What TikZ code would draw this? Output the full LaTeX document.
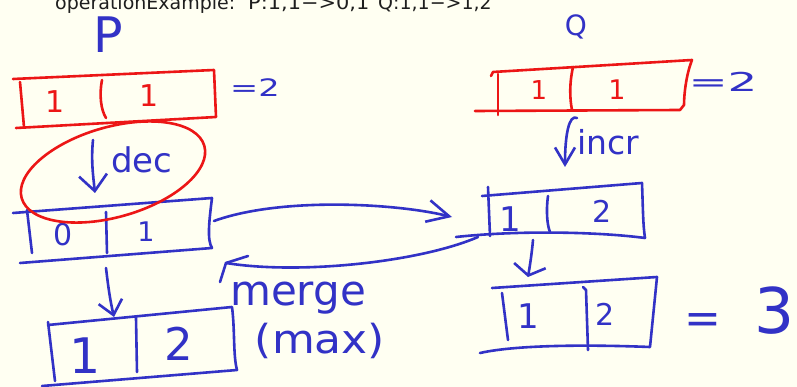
\documentclass[tikz,border=0pt]{standalone}
\usepackage{fontspec}
\setmainfont{DejaVu Sans}
\usetikzlibrary{arrows.meta}
\definecolor{paper}{RGB}{255,255,242}
\definecolor{pen}{RGB}{50,50,198}
\definecolor{redpen}{RGB}{236,22,22}
\definecolor{headgray}{RGB}{30,30,30}
\newcommand{\fsz}[1]{\fontsize{#1pt}{#1pt}\selectfont}
\tikzset{
  ink/.style={line width=2.6pt, line cap=round, line join=round},
  blueink/.style={ink, draw=pen},
  redink/.style={ink, draw=redpen},
  hand/.style={inner sep=0pt, outer sep=0pt, anchor=base, text=pen},
  redhand/.style={hand, text=redpen},
  head/.style={inner sep=0pt, anchor=base west, text=headgray, font=\fsz{19}},
  barb/.style 2 args={-{Straight Barb[length=#1pt, width=#2pt]}},
}
\begin{document}
\begin{tikzpicture}[x=1pt, y=-1pt]
\fill[paper] (0,0) rectangle (797,387);
\useasboundingbox (0,0) rectangle (797,387);

% heading line
\node[head] (title) at (55,10) {operationExample:};
\node[head] (pmap) at (248,10) {\scalebox{1.1}[1]{P:1,1−>0,1}};
\node[head] (qmap) at (378,10) {Q:1,1−>1,2};

% replica names
\node[hand, font=\fsz{49}] (plabel) at (108,53) {P};
\node[hand, font=\fsz{28}] (qlabel) at (576,36) {Q};

% ---- replica P: initial state (red)
\draw[redink] (13,79) -- (214,70) -- (216,117) -- (16,128);
\draw[redink] (20,82) -- (24,127);
\draw[redink] (102,80) .. controls (99,95) and (101,110) .. (106,118);
\node[redhand, font=\fsz{30}] (p1a) at (55,113) {1};
\node[redhand, font=\fsz{30}] (p1b) at (149,107) {1};
\node[hand, font=\fsz{24}] (psum) at (255,97) {\scalebox{1.4}[1]{=2}};

% ---- replica P after dec
\draw[blueink] (13,213) -- (212,198) .. controls (209,222) and (207,240) .. (212,248) -- (20,263);
\draw[blueink] (27,210) -- (32,253);
\draw[blueink] (106,212) -- (107,253);
\node[hand, font=\fsz{30}] (p2a) at (63,245) {0};
\node[hand, font=\fsz{27}] (p2b) at (146,242) {1};

% dec step, circled
\coordinate (pdecfrom) at (93,140);
\coordinate (pdecto) at (95,193);
\draw[blueink, barb={16}{28}] (pdecfrom) .. controls (91,160) and (93,175) .. (pdecto);
\node[hand, font=\fsz{34}] (dec) at (142,173) {dec};
\draw[redink, rotate around={16:(113,172)}] (113,172) ellipse [x radius=95pt, y radius=45pt];

% ---- replica P after merge
\coordinate (p2down) at (106,268);
\coordinate (p3top) at (114,317);
\draw[blueink, barb={14}{24}] (p2down) .. controls (108,285) and (110,300) .. (p3top);
\draw[blueink] (48,325) -- (232,307) .. controls (235,330) and (233,355) .. (237,370) -- (42,386);
\draw[blueink] (48,322) -- (55,381);
\draw[blueink] (136,318) -- (137,372);
\node[hand, font=\fsz{49}] (p3a) at (85,373) {1};
\node[hand, font=\fsz{45}] (p3b) at (179,360) {2};

% ---- replica Q: initial state (red)
\draw[redink] (491,76) -- (493,72) -- (692,60) .. controls (686,75) and (684,95) .. (684,105) -- (680,110) -- (475,111);
\draw[redink] (498,74) -- (498,115);
\draw[redink] (573,67) .. controls (569,85) and (570,100) .. (572,110);
\node[redhand, font=\fsz{26}] (q1a) at (539,100) {1};
\node[redhand, font=\fsz{27}] (q1b) at (617,100) {1};
\node[hand, font=\fsz{26}] (qsum) at (723,92) {\scalebox{1.8}[1]{=2}};

% incr step
\coordinate (qincfrom) at (577,118);
\coordinate (qincto) at (565,167);
\draw[blueink, barb={17}{20}] (qincfrom) .. controls (569,114) and (565,135) .. (qincto);
\node[hand, font=\fsz{33}] (incr) at (608,155) {incr};

% ---- replica Q after incr
\draw[blueink] (482,196) -- (642,183) .. controls (643,210) and (643,225) .. (645,238)
  .. controls (600,232) and (520,230) .. (456,237);
\draw[blueink] (488,187) -- (490,236);
\draw[blueink] (548,196) .. controls (546,210) and (547,225) .. (550,232);
\node[hand, font=\fsz{34}] (q2a) at (510,232) {1};
\node[hand, font=\fsz{30}] (q2b) at (602,223) {2};

% ---- replica Q after merge
\coordinate (q2down) at (533,240);
\coordinate (q3top) at (528,277);
\draw[blueink, barb={10}{32}] (q2down) .. controls (532,252) and (530,265) .. (q3top);
\draw[blueink] (492,288) -- (657,277) -- (650,347) .. controls (600,345) and (520,344) .. (480,353);
\draw[blueink] (502,293) -- (508,340);
\draw[blueink] (583,287) -- (586,290) -- (588,350);
\node[hand, font=\fsz{34}] (q3a) at (528,328) {1};
\node[hand, font=\fsz{30}] (q3b) at (605,325) {2};
\node[hand, font=\fsz{44}] (q3eq) at (703,333) {=};
\node[hand, font=\fsz{63}] (q3sum) at (775,333) {3};

% ---- state exchange between the replicas
\coordinate (p2out) at (214,221);
\coordinate (q2in) at (452,217);
\draw[blueink, barb={22}{22}] (p2out) .. controls (280,197) and (395,203) .. (q2in);

\coordinate (q2back) at (478,237);
\coordinate (p2back) at (226,263);
\draw[blueink] (q2back) .. controls (420,262) and (300,275) .. (p2back);
\draw[blueink] (p2back) ++(22,-7) -- (p2back) -- ++(-6,19);
\node[hand, font=\fsz{42}] (merge) at (298,305) {merge};
\node[hand, font=\fsz{40}] (maxop) at (320,353) {\scalebox{1.1}[1]{(max)}};
\end{tikzpicture}
\end{document}
